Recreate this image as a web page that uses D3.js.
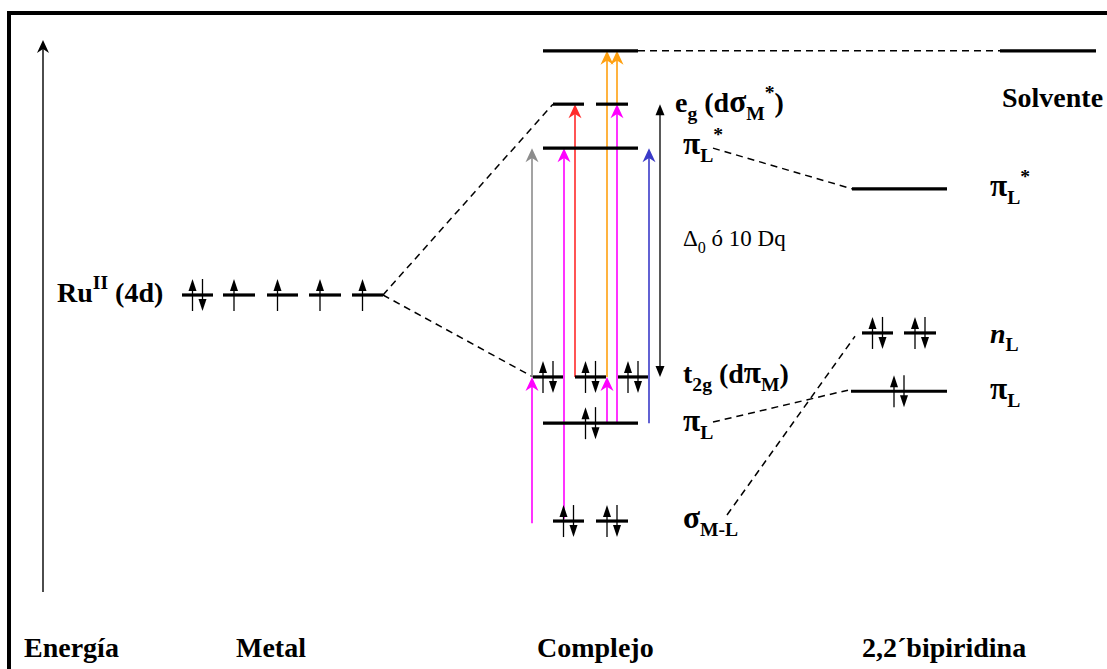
<!DOCTYPE html>
<html><head><meta charset="utf-8">
<script src="https://cdn.jsdelivr.net/npm/d3@7"></script>
<style>
body{margin:0;background:#fff}
svg{display:block}
</style>
</head><body>
<svg id="chart" width="1107" height="669"></svg>
<script>
// ---------- DATA (energy in arbitrary units 0..100, x in diagram units) ----------
// Orbital levels: [x start, x end, energy, electrons]
const metalLevels = [
  [182, 213, 54.0, 2],
  [223, 255, 54.0, 1],
  [267, 298, 54.0, 1],
  [309, 341, 54.0, 1],
  [352, 383, 54.0, 1]
];
const complexLevels = [
  [543, 638, 98.4, 0],   // upper (solvent-like) level
  [553, 584, 88.7, 0],   // e_g
  [596, 628, 88.7, 0],   // e_g
  [543, 638, 80.7, 0],   // pi_L*
  [533, 563, 39.1, 2],   // t2g
  [575, 606, 39.1, 2],   // t2g
  [618, 648, 39.1, 2],   // t2g
  [543, 638, 30.7, 2],   // pi_L
  [553, 584, 12.9, 2],   // sigma M-L
  [596, 628, 12.9, 2]    // sigma M-L
];
const ligandLevels = [
  [1000, 1096, 98.4, 0], // solvente
  [852, 947, 73.3, 0],   // pi_L*
  [862, 893, 47.1, 2],   // n_L
  [904, 936, 47.1, 2],   // n_L
  [851, 947, 36.5, 2]    // pi_L
];
// Electronic transitions: [x, from energy, to energy, colour]
const transitions = [
  [532, 39.1, 80.7, "#8c8c8c"],
  [532, 12.5, 39.1, "#ff00ff"],
  [564, 13.3, 80.7, "#ff00ff"],
  [575, 39.1, 88.7, "#ff2a2a"],
  [607, 39.1, 98.4, "#ffa010"],
  [617, 88.7, 98.4, "#ffa010"],
  [607, 30.7, 39.1, "#ff00ff"],
  [617, 30.7, 88.7, "#ff00ff"],
  [649, 30.7, 80.7, "#3a3ac8"]
];
// Delta_0 double arrow: [x, lower energy, upper energy]
const splitting = [660, 39.1, 88.7];
// Correlation (dashed) lines: [x1, E1, x2, E2]
const correlations = [
  [383, 54.0, 553, 88.7],
  [383, 54.0, 533, 39.1],
  [638, 98.4, 1000, 98.4],
  [713, 80.7, 852, 73.3],
  [713, 30.9, 848, 36.7],
  [727, 14.0, 855, 46.5]
];
const energyAxis = [43, 0, 100];
const columnLabels = ["Energía", "Metal", "Complejo", "2,2´bipiridina"];

// ---------- SCALES ----------
const W = 1107, H = 669;
const x = d3.scaleLinear().domain([0, W]).range([0, W]);
const y = d3.scaleLinear().domain([0, 100]).range([592, 42]);
const FONT = "'Liberation Serif', 'Times New Roman', Times, 'DejaVu Serif', serif";

const svg = d3.select("#chart");

// frame
svg.append("rect").attr("x", 9).attr("y", 13).attr("width", W + 20).attr("height", H + 20)
  .attr("fill", "none").attr("stroke", "#000").attr("stroke-width", 4);

// arrowhead helpers
function notchHead(g, cx, tipY, dir, w, h, color) {
  const b = tipY - dir * h, n = tipY - dir * h * 0.7;
  g.append("path")
    .attr("d", `M${cx},${tipY} L${cx - w / 2},${b} L${cx},${n} L${cx + w / 2},${b} Z`)
    .attr("fill", color);
}
function triHead(g, cx, tipY, dir, w, h, color) {
  const b = tipY - dir * h;
  g.append("path")
    .attr("d", `M${cx},${tipY} L${cx - w / 2},${b} L${cx + w / 2},${b} Z`)
    .attr("fill", color);
}

// energy axis
const ax = svg.append("g");
ax.append("line").attr("x1", x(energyAxis[0])).attr("x2", x(energyAxis[0]))
  .attr("y1", y(energyAxis[1])).attr("y2", y(energyAxis[2]) + 6)
  .attr("stroke", "#000").attr("stroke-width", 1.4);
notchHead(ax, x(energyAxis[0]), y(energyAxis[2]) - 2, -1, 12, 13, "#000");

// correlation lines
svg.append("g").selectAll("line").data(correlations).join("line")
  .attr("x1", d => x(d[0])).attr("y1", d => y(d[1]))
  .attr("x2", d => x(d[2])).attr("y2", d => y(d[3]))
  .attr("stroke", "#000").attr("stroke-width", 1.5).attr("stroke-dasharray", "7,5");

// transitions
const tr = svg.append("g");
transitions.forEach(([tx, e0, e1, c]) => {
  tr.append("line").attr("x1", x(tx)).attr("x2", x(tx))
    .attr("y1", y(e0)).attr("y2", y(e1) + 8)
    .attr("stroke", c).attr("stroke-width", 1.6);
  notchHead(tr, x(tx), y(e1), -1, 13, 14, c);
});

// splitting arrow
const sp = svg.append("g");
sp.append("line").attr("x1", x(splitting[0])).attr("x2", x(splitting[0]))
  .attr("y1", y(splitting[1]) - 8).attr("y2", y(splitting[2]) + 8)
  .attr("stroke", "#000").attr("stroke-width", 1.3);
triHead(sp, x(splitting[0]), y(splitting[2]), -1, 9, 11, "#000");
triHead(sp, x(splitting[0]), y(splitting[1]), 1, 9, 11, "#000");

// levels + electrons
const allLevels = metalLevels.concat(complexLevels, ligandLevels);
const lv = svg.append("g");
lv.selectAll("line").data(allLevels).join("line")
  .attr("x1", d => x(d[0])).attr("x2", d => x(d[1]))
  .attr("y1", d => y(d[2])).attr("y2", d => y(d[2]))
  .attr("stroke", "#000").attr("stroke-width", 3.2);

const el = svg.append("g");
function spin(cx, cy, up) {
  const top = cy - 16, bot = cy + 16;
  el.append("line").attr("x1", cx).attr("x2", cx)
    .attr("y1", up ? top + 8 : top).attr("y2", up ? bot : bot - 8)
    .attr("stroke", "#000").attr("stroke-width", 1.3);
  triHead(el, cx, up ? top : bot, up ? -1 : 1, 8, 12, "#000");
}
allLevels.forEach(d => {
  const c = (x(d[0]) + x(d[1])) / 2, ly = y(d[2]);
  if (d[3] >= 1) spin(c - 5, ly, true);
  if (d[3] === 2) spin(c + 5, ly, false);
});

// rich text helper: kinds n (normal), g (greek), i (italic), sub, sup
function rich(xp, yp, parts, size, weight) {
  const t = svg.append("text").attr("x", xp).attr("y", yp)
    .attr("font-family", FONT)
    .attr("font-size", size).attr("font-weight", weight || "bold");
  let cur = 0;
  parts.forEach(p => {
    const s = p[0], k = p[1] || "n";
    const target = k === "sub" ? size * 0.3 : k === "sup" ? -size * 0.45 : 0;
    const fs = k === "g" ? size * 1.12 : (k === "n" || k === "i") ? size : size * 0.7;
    const ts = t.append("tspan").attr("dy", target - cur).attr("font-size", fs).text(s);
    if (k === "i") ts.attr("font-style", "italic");
    cur = target;
  });
  return t;
}

const F = 28;
rich(57, 302, [["Ru"], ["II", "sup"], [" (4d)"]], F);
rich(675, 112, [["e"], ["g", "sub"], [" (d"], ["σ", "g"], ["M", "sub"], ["*", "sup"], [")"]], F);
rich(683, 154, [["π", "g"], ["L", "sub"], ["*", "sup"]], F);
rich(683, 246, [["Δ"], ["0", "sub"], [" ó 10 Dq"]], 23, "normal");
rich(683, 383, [["t"], ["2g", "sub"], [" (d"], ["π", "g"], ["M", "sub"], [")"]], F);
rich(683, 431, [["π", "g"], ["L", "sub"]], F);
rich(683, 528, [["σ", "g"], ["M-L", "sub"]], F);
rich(1002, 107, [["Solvente"]], F);
rich(990, 196, [["π", "g"], ["L", "sub"], ["*", "sup"]], F);
rich(990, 343, [["n", "i"], ["L", "sub"]], F);
rich(990, 399, [["π", "g"], ["L", "sub"]], F);

const colX = [24, 236, 537, 862];
svg.append("g").selectAll("text").data(columnLabels).join("text")
  .attr("x", (d, i) => x(colX[i])).attr("y", 657)
  .attr("font-family", FONT)
  .attr("font-size", F).attr("font-weight", "bold").text(d => d);
</script>
</body></html>
